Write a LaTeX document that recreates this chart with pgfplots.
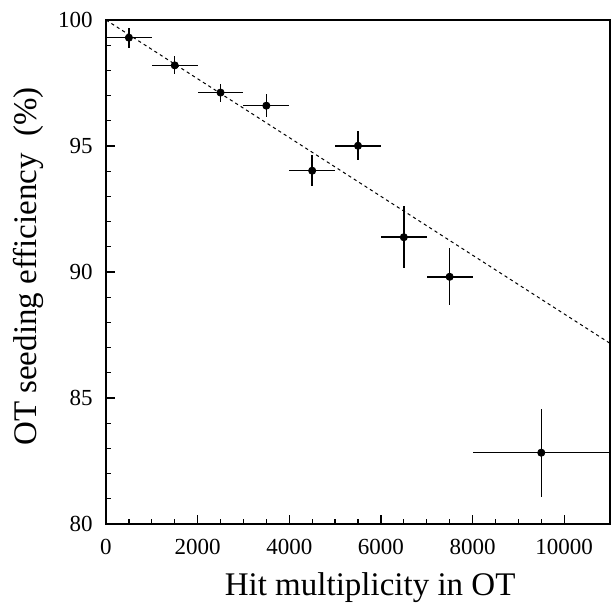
\documentclass[border=0pt]{standalone}
\usepackage{fontspec}
\setmainfont{Liberation Serif}
\usepackage{pgfplots}
\pgfplotsset{compat=1.18}

\begin{document}
\begin{tikzpicture}
\begin{axis}[
    scale only axis,
    width=252pt,height=252pt,
    xmin=0,xmax=11000,
    ymin=80,ymax=100,
    xtick={0,2000,4000,6000,8000,10000},
    minor x tick num=3,
    ytick={80,85,90,95,100},
    minor y tick num=4,
    scaled x ticks=false,
    xticklabel style={/pgf/number format/1000 sep={},anchor=center,yshift=-11.5pt},
    yticklabel style={anchor=east,inner sep=0pt,xshift=-6.5pt},
    tick label style={/pgf/number format/assume math mode=true,font=\fontsize{11.5}{13}\selectfont},
    tick align=inside,
    xtick pos=bottom,ytick pos=left,
    major tick length=4.5pt,minor tick length=2.5pt,
    every tick/.style={black,line width=0.6pt},
    axis line style={line width=1pt},
    xlabel={Hit multiplicity in OT},
    ylabel={OT seeding efficiency\ \ (\%)},
    label style={font=\fontsize{16.5}{19}\selectfont},
    xlabel style={at={(axis description cs:0.524,-0.127)},anchor=center},
    ylabel style={at={(axis description cs:-0.153,0.511)},anchor=center},
]
% fitted straight line
\addplot[black,line width=0.5pt,dash pattern=on 1.6pt off 1.6pt] coordinates {
    (0,100)
    (11000,87.17)
};
% measured efficiency per multiplicity bin
\addplot[
    only marks,
    mark=*,mark size=1.8pt,
    black,
    error bars/.cd,
        x dir=both,x explicit,
        y dir=both,y explicit,
        error mark=none,
        error bar style={line width=0.75pt},
] table[x=x,y=y,x error=ex,y error=ey] {
x     y      ex    ey
500   99.30  500   0.40
1500  98.20  500   0.36
2500  97.12  500   0.36
3500  96.60  500   0.45
4500  94.02  500   0.62
5500  95.01  500   0.57
6500  91.38  500   1.22
7500  89.81  500   1.13
9500  82.83  1500  1.74
};
\end{axis}
\pgfresetboundingbox
\path ([xshift=-53pt,yshift=-41.5pt]current axis.south west) rectangle ([xshift=0.5pt,yshift=10pt]current axis.north east);
\end{tikzpicture}
\end{document}
